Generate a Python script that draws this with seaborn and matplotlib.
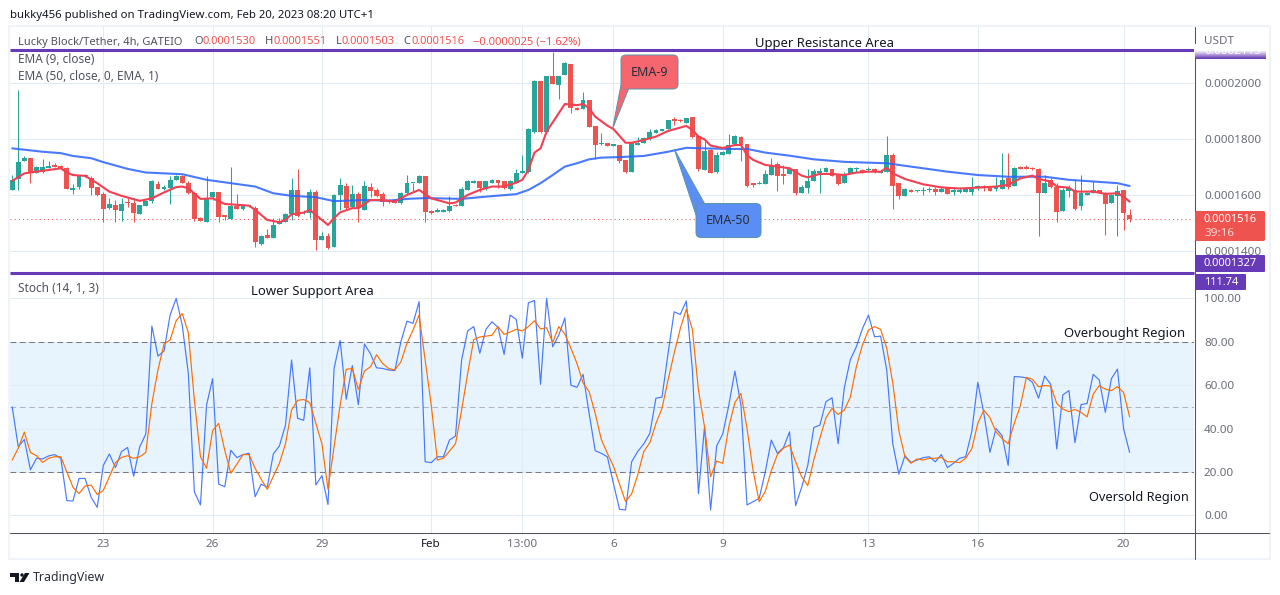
import numpy as np
import pandas as pd
import matplotlib
matplotlib.use("Agg")
import matplotlib.pyplot as plt
import seaborn as sns
from matplotlib.colors import LinearSegmentedColormap
from matplotlib.patches import FancyBboxPatch, Polygon, Rectangle, Circle

# prices are kept in units of 1e-7 USDT
open_ = [1618,1657,1721,1733,1680,1683,1695,1707,1703,1695,
         1616,1627,1670,1662,1627,1604,1554,1563,1543,1573,
         1571,1533,1562,1579,1639,1622,1624,1654,1668,1644,
         1606,1518,1505,1592,1611,1529,1515,1562,1549,1560,
         1553,1426,1458,1448,1497,1503,1533,1618,1535,1535,
         1609,1438,1454,1413,1600,1632,1556,1604,1547,1627,
         1618,1603,1582,1582,1571,1606,1642,1644,1668,1543,
         1541,1541,1543,1566,1559,1618,1642,1650,1620,1644,
         1654,1648,1620,1644,1680,1683,1826,2006,1826,2024,
         1992,2027,2067,1910,1906,1938,1846,1780,1784,1776,
         1779,1725,1681,1779,1786,1798,1822,1828,1834,1867,
         1866,1856,1878,1810,1689,1760,1681,1743,1746,1782,
         1808,1782,1644,1638,1639,1672,1709,1671,1676,1692,
         1608,1626,1650,1680,1683,1692,1671,1643,1680,1691,
         1689,1688,1693,1677,1683,1743,1642,1598,1617,1613,
         1613,1618,1621,1612,1627,1610,1612,1612,1612,1626,
         1632,1626,1621,1623,1662,1632,1700,1701,1695,1693,
         1608,1654,1630,1544,1614,1616,1559,1600,1606,1616,
         1606,1573,1598,1618,1530]
high = [1672,1974,1739,1733,1703,1727,1721,1713,1707,1701,
        1638,1666,1674,1666,1630,1609,1588,1582,1588,1588,
        1588,1565,1582,1654,1648,1636,1666,1671,1671,1648,
        1609,1523,1666,1612,1611,1529,1699,1603,1565,1564,
        1559,1458,1478,1517,1517,1535,1662,1693,1545,1620,
        1616,1467,1464,1604,1662,1642,1636,1612,1650,1642,
        1624,1609,1586,1585,1612,1671,1644,1671,1668,1546,
        1553,1550,1598,1568,1630,1654,1654,1650,1651,1657,
        1654,1648,1654,1691,1743,1840,2010,2006,2024,2110,
        2024,2074,2067,1915,1966,1938,1846,1820,1784,1780,
        1779,1725,1786,1808,1808,1836,1835,1836,1867,1877,
        1869,1874,1878,1814,1792,1763,1754,1757,1817,1814,
        1810,1782,1644,1650,1689,1731,1719,1707,1699,1692,
        1636,1692,1692,1697,1701,1692,1671,1683,1701,1701,
        1691,1699,1695,1689,1810,1748,1642,1624,1620,1617,
        1627,1630,1627,1630,1630,1626,1627,1627,1663,1636,
        1636,1626,1663,1751,1751,1699,1702,1706,1698,1695,
        1671,1659,1642,1624,1636,1657,1671,1610,1648,1618,
        1612,1603,1636,1618,1551]
low = [1618,1616,1721,1644,1680,1677,1695,1699,1693,1622,
       1604,1622,1664,1600,1598,1502,1549,1505,1509,1556,
       1505,1533,1562,1571,1622,1618,1568,1654,1642,1604,
       1509,1508,1505,1582,1505,1511,1515,1550,1547,1558,
       1416,1421,1445,1448,1497,1503,1511,1521,1533,1517,
       1404,1438,1408,1413,1547,1547,1553,1502,1547,1594,
       1594,1562,1571,1571,1568,1604,1612,1642,1502,1533,
       1541,1541,1541,1559,1559,1618,1642,1612,1618,1644,
       1624,1620,1618,1644,1677,1680,1820,1820,1826,1995,
       1942,2027,1891,1903,1906,1843,1728,1778,1776,1776,
       1715,1677,1681,1779,1784,1796,1822,1828,1834,1849,
       1861,1856,1802,1687,1689,1680,1677,1743,1746,1782,
       1721,1627,1627,1638,1639,1672,1614,1638,1676,1600,
       1606,1608,1648,1608,1683,1669,1636,1643,1680,1683,
       1680,1683,1680,1677,1683,1550,1586,1598,1610,1611,
       1600,1612,1600,1612,1604,1600,1606,1612,1600,1618,
       1614,1614,1614,1623,1620,1632,1694,1693,1690,1454,
       1606,1624,1505,1544,1591,1547,1547,1600,1606,1606,
       1458,1573,1455,1475,1503]
close = [1654,1717,1733,1677,1699,1699,1703,1701,1697,1622,
         1624,1666,1668,1626,1600,1549,1568,1547,1568,1571,
         1537,1565,1579,1648,1622,1627,1654,1668,1644,1606,
         1514,1508,1588,1609,1523,1521,1562,1550,1559,1562,
         1434,1454,1445,1492,1502,1531,1618,1525,1541,1609,
         1440,1454,1410,1600,1636,1553,1603,1553,1632,1614,
         1597,1576,1574,1573,1606,1642,1644,1668,1541,1537,
         1547,1547,1559,1559,1621,1648,1651,1626,1648,1654,
         1642,1624,1648,1677,1686,1836,2007,1826,2024,1995,
         2024,2069,1911,1903,1938,1843,1778,1784,1776,1780,
         1721,1681,1784,1786,1802,1824,1832,1834,1867,1865,
         1864,1874,1808,1693,1758,1680,1743,1754,1778,1811,
         1778,1633,1637,1644,1675,1708,1669,1669,1693,1608,
         1630,1650,1685,1686,1697,1669,1639,1675,1697,1695,
         1682,1693,1682,1687,1741,1633,1598,1621,1612,1615,
         1618,1621,1612,1623,1604,1617,1618,1621,1621,1633,
         1624,1614,1627,1654,1627,1696,1694,1693,1692,1608,
         1643,1629,1541,1618,1624,1550,1606,1608,1616,1608,
         1569,1600,1613,1537,1516]

# EMA lines read at the bends only
ema9_bar = [0,2,4,8,9,10,12,14,16,18,21,23,25,27,28,29,31,33,35,37,39,40,42,44,45,46,48,49,50,52,53,54,56,57,59,61,63,65,67,
            69,72,73,75,77,79,81,83,84,85,86,87,88,91,93,94,95,96,98,99,101,102,104,106,108,111,112,113,114,115,117,119,120,121,122,124,126,128,130,131,133,135,137,139,
            141,143,144,145,147,150,153,156,159,162,164,166,168,169,171,172,174,175,178,180,182,183,184]
ema9 = [1650,1677,1683,1695,1680,1671,1668,1642,1612,1597,1579,1588,1609,1628,1630,1624,1586,1588,1568,1565,1562,1547,1511,1503,1511,1531,1537,1547,1529,1493,1517,1538,1553,1553,1582,1582,1576,1600,1618,
        1588,1570,1573,1600,1618,1630,1630,1644,1654,1689,1751,1766,1826,1924,1920,1924,1909,1879,1847,1835,1786,1786,1796,1808,1828,1846,1832,1808,1798,1776,1767,1778,1778,1742,1725,1707,1701,1695,1669,1663,1675,1675,1671,1680,
        1683,1683,1697,1677,1657,1638,1627,1623,1626,1630,1636,1659,1669,1657,1648,1630,1626,1612,1612,1604,1606,1594,1576]
ema50_bar = [0,5,8,10,13,15,19,22,28,32,36,40,43,46,50,53,58,62,65,68,
             70,74,78,83,85,87,89,91,93,95,97,100,104,108,111,114,118,121,124,128,132,137,
             141,144,148,154,159,164,170,174,180,182,184]
ema50 = [1766,1754,1749,1739,1731,1717,1693,1680,1674,1654,1642,1630,1606,1597,1592,1578,1582,1580,1586,1589,
         1588,1586,1594,1603,1618,1642,1671,1701,1713,1727,1733,1735,1739,1754,1768,1766,1764,1764,1751,1740,1727,1718,
         1715,1713,1701,1683,1671,1665,1665,1654,1645,1642,1632]

stoch_k = [50,31.6,35,21,26.3,26,27.4,28,26.3,6.8,
           6.6,17,17,8.3,3.7,23,28.3,22,29.4,31.3,
           18,31.6,37.5,87.2,73.4,75.7,92.3,100,87.7,65.4,
           10.8,4.8,50.8,63,14.4,13.2,30,26.6,28,28.6,
           8.6,14.4,13,28.3,32,41.6,71.6,44.7,43.8,68,
           14,18.3,5,67.7,80.6,53.5,69,51,79,74.4,
           68,67.7,67,66.7,80,89.5,88.5,98.5,24.7,24.3,
           27,27,34.7,36.6,71.6,85,87,74.7,85.7,89.2,
           86.6,74.2,92.3,90.3,72.4,98,99,60.4,100,77.7,
           83,91,60,59,65,47,29.8,28.6,27,14.7,
           2.8,2.5,24.7,29.4,33,37.8,54,54.5,74.7,93.8,
           92.6,98.8,67,10,40.8,2.5,32,37.5,50.8,66.5,
           50.8,4.8,6.3,7.8,20,34.7,28.6,31.2,38.5,4.5,
           13,23,40.5,41.6,52.4,54.2,33,58.5,71.7,77.7,
           86,92.3,82.3,82.6,67,33,19,27.5,24.4,25.5,
           26.6,27,24.7,28,22,24,26.3,27,38.5,61.3,
           47,29,40,36.7,23,64,63.8,63.4,61.3,54,
           64.2,60.4,30.6,55.5,57.5,33.5,51,51.6,65,62.4,
           47.5,63,67.4,40,29]
stoch_d = [25.5,31,38.4,29,27.5,24.4,26.3,27,27,20,
           13,10,13.5,14,9.6,11.5,17.8,24.3,26.7,27.5,
           26.3,27,29,51.6,67,79,80.8,89.7,93,84.2,
           53,27,21.7,39,42.4,30,19.4,23.6,28,28,
           21.7,16.7,12,18,24,33,48.5,53,53.4,52,
           42.4,33,12,31.6,50.8,67.3,67.7,58,66.5,68.5,
           74,70,67.7,67,70.7,79.3,85.4,92.3,71.6,50.8,
           25.5,26.3,29.6,33,48.5,65.4,81,82.2,82.6,83,
           87,83.4,84.5,85.7,85,87,89.7,85.9,86.5,79.6,
           87,83.6,77,70,61,57,47,35,28.6,22.7,
           14.4,6.3,10,18.6,29.4,33.5,42.4,49.3,62.4,74.7,
           86,95,85.7,57.8,40.8,17.8,25,24,40.8,52,
           56.2,40,20.6,6.3,11,20.6,28,31,32.4,24.7,
           17.8,13.7,25.6,35.6,45,49.3,46.5,48.5,54.4,68.5,
           78.5,85.4,87,85.7,77,61,39,27,24,26,
           25.5,26.3,26.3,26.7,24.7,24.7,24.3,26.3,30.6,42.4,
           48.5,45,38.5,35.4,33,42.4,50.4,63.6,62.7,59.3,
           59.8,59.6,51.6,49,47.8,48.8,47.5,45.4,55.9,59.8,
           58.2,57.5,59.3,56.7,45.4]

date_bar = [15,33,51,69,84,99,117,141,159,183]
date_labels = ["23","26","29","Feb","13:00","6","9","13","16","20"]
price_ticks = [1400,1600,1800,2000]
stoch_ticks = [0,20,40,60,80,100]
last_close = 1516
upper_area = 2115

GREEN = "#26a69a"
RED = "#ef5350"
EMA_RED = "#f23f52"
BLUE = "#2962ff"
PURPLE = "#673ab7"
GRID = "#e1ecf2"
TXT = "#50535e"
AXTXT = "#6a6d78"
W, H = 1280, 595

sns.set_theme(style="white")
plt.rcParams["font.family"] = ["Noto Sans", "DejaVu Sans"]
plt.rcParams["font.size"] = 8.6

df = pd.DataFrame({"bar": np.arange(len(close)), "open": open_, "high": high, "low": low, "close": close,
                   "k": stoch_k, "d": stoch_d})
for c in ["open", "high", "low", "close"]:
    df[c] = df[c] * 1e-7
ema9_df = pd.DataFrame({"bar": ema9_bar, "value": np.array(ema9) * 1e-7})
ema50_df = pd.DataFrame({"bar": ema50_bar, "value": np.array(ema50) * 1e-7})

fig = plt.figure(figsize=(W / 100, H / 100), dpi=100, facecolor="white")


def pane(top, bottom):
    return fig.add_axes([10 / W, 1 - bottom / H, 1184 / W, (bottom - top) / H])


ax = pane(27, 273)
ax2 = pane(273, 532.5)
x_lim = (-0.362, 194.6)

# price pane
up = df[df["close"] >= df["open"]]
down = df[df["close"] < df["open"]]
for part, col in [(up, GREEN), (down, RED)]:
    ax.vlines(part["bar"], part["low"], part["high"], color=col, lw=0.75, zorder=3)
    ax.bar(part["bar"], (part["close"] - part["open"]).abs().clip(lower=4e-7),
           bottom=part[["open", "close"]].min(axis=1), width=0.8, color=col, linewidth=0, zorder=3)
ax.axhline(last_close * 1e-7, color=RED, lw=0.75, ls=(0, (1, 3)), zorder=2)
sns.lineplot(data=ema50_df, x="bar", y="value", ax=ax, color=BLUE, lw=1.5, errorbar=None, zorder=4, alpha=0.85)
sns.lineplot(data=ema9_df, x="bar", y="value", ax=ax, color=EMA_RED, lw=1.5, errorbar=None, zorder=5)
ax.axhline(upper_area * 1e-7, color=PURPLE, lw=2.2, zorder=6, solid_capstyle="butt")
ax.set_ylim(1322e-7, 2198.4e-7)
ax.set_yticks([t * 1e-7 for t in price_ticks])
ax.set_yticklabels([f"{t * 1e-7:.7f}" for t in price_ticks])

# stochastic pane
ax2.axhspan(20, 80, color="#e8f4fd", lw=0, zorder=0)
sns.lineplot(data=df, x="bar", y="k", ax=ax2, color=BLUE, lw=0.85, errorbar=None, zorder=4, alpha=0.85)
sns.lineplot(data=df, x="bar", y="d", ax=ax2, color="#ff6d00", lw=0.85, errorbar=None, zorder=5)
for lev, col in [(80, "#787b86"), (50, "#b2b5be"), (20, "#787b86")]:
    ax2.axhline(lev, color=col, lw=0.75, ls=(0, (5.5, 3.5)), zorder=2)
ax2.set_ylim(-7.9, 111.7)
ax2.set_yticks(stoch_ticks)
ax2.set_yticklabels([f"{t:.2f}" for t in stoch_ticks])

for a in (ax, ax2):
    a.set_xlim(*x_lim)
    a.set_xlabel("")
    a.set_ylabel("")
    a.set_xticks(date_bar)
    a.grid(True, color=GRID, lw=0.75, zorder=0)
    a.set_axisbelow(True)
    a.yaxis.tick_right()
    for s in a.spines.values():
        s.set_visible(False)
    a.tick_params(axis="y", length=0, pad=7.2, labelsize=8.4, labelcolor=AXTXT, labelright=True, labelleft=False)
    a.tick_params(axis="x", length=0, pad=5, labelsize=8.4, labelcolor=AXTXT)
ax.tick_params(axis="x", labelbottom=False)
ax2.set_xticklabels(date_labels)
ax2.get_xticklabels()[3].set_color("#131722")

# overlay in pixel coordinates for the TradingView chrome and the drawn notes
ov = fig.add_axes([0, 0, 1, 1], zorder=10)
ov.patch.set_alpha(0)
ov.axis("off")

ov.add_patch(Rectangle((9, 26), 1261, 533, fill=False, ec="#f0f3fa", lw=1.5))
ov.plot([1194.5, 1194.5], [27, 559], color="#50535e", lw=0.75)
ov.plot([10, 1269], [532.5, 532.5], color="#50535e", lw=0.75)
ov.plot([10, 1194], [273, 273], color=PURPLE, lw=2.2, solid_capstyle="butt")


def label(x, y, s, color=TXT, size=8.6, **kw):
    kw.setdefault("va", "center")
    return ov.text(x, y, s, color=color, fontsize=size, **kw)


label(10, 15.5, "bukky456 published on TradingView.com, Feb 20, 2023 08:20 UTC+1", color="#131722", size=8.2)
label(18, 42, "Lucky Block/Tether, 4h, GATEIO", size=8.0)
for x, letter, val in [(194, "O", "0.0001530"), (265, "H", "0.0001551"), (336, "L", "0.0001503"), (403, "C", "0.0001516")]:
    label(x, 42, letter, size=8.0)
    label(x + (6 if letter == "L" else 8.5), 42, val, color=RED, size=8.0)
label(473, 42, "\u22120.0000025 (\u22121.62%)", color=RED, size=8.1)
label(18, 59.5, "EMA (9, close)", size=8.5)
label(18, 76, "EMA (50, close, 0, EMA, 1)", size=8.5)
label(18, 288, "Stoch (14, 1, 3)", size=8.5)

label(755, 43, "Upper Resistance Area", color="#131722", size=9.4)
label(251, 292, "Lower Support Area", color="#131722", size=9.4)
label(1064, 334, "Overbought Region", color="#131722", size=9.4)
label(1089, 497.5, "Oversold Region", color="#131722", size=9.2)

# right axis badges
label(1204, 42, "USDT", color=AXTXT, size=8.4, zorder=6)
grad = LinearSegmentedColormap.from_list("fade", ["#ffffff", PURPLE])
ov.imshow(np.linspace(0, 1, 12).reshape(-1, 1), extent=(1194.5, 1265, 59, 50), cmap=grad, aspect="auto", zorder=2)
label(1204, 52, "0.0002115", color="#ffffff", size=8.4, zorder=3)
ov.add_patch(Rectangle((1195, 44), 70, 6, fc="white", ec="none", zorder=4))
ov.add_patch(FancyBboxPatch((1195, 211), 70, 30, boxstyle="round,pad=0,rounding_size=1.5", fc=RED, ec="none", zorder=5))
label(1204, 220, "0.0001516", color="white", size=8.0, weight="bold", zorder=6)
label(1204, 234, "39:16", color="#ffd6d4", size=8.4, zorder=6)
ov.add_patch(FancyBboxPatch((1195, 255), 70, 17, boxstyle="round,pad=0,rounding_size=1", fc=PURPLE, ec="none", zorder=5))
label(1204, 264, "0.0001327", color="white", size=8.0, weight="bold", zorder=6)
ov.add_patch(FancyBboxPatch((1195, 274), 51, 16, boxstyle="round,pad=0,rounding_size=1", fc=PURPLE, ec="none", zorder=5))
label(1204, 282.5, "111.74", color="white", size=8.0, weight="bold", zorder=6)

# EMA callouts
edge = "#5a93a8"
ov.add_patch(Polygon([(612.7, 128.3), (621, 85), (628.5, 89)], closed=True, fc="#f6666f", ec=edge, lw=0.7, zorder=7))
ov.add_patch(FancyBboxPatch((621, 55), 57, 34, boxstyle="round,pad=0,rounding_size=5", fc="#f6666f", ec=edge, lw=0.7, zorder=7))
ov.add_patch(Polygon([(621.5, 84), (621.5, 89), (630, 88.5), (624, 84)], closed=True, fc="#f6666f", ec="none", zorder=8))
label(649.5, 72, "EMA-9", color="#2a2e39", size=9, ha="center", zorder=9)

ov.add_patch(Polygon([(674.3, 149.3), (696, 215), (704.5, 203.5)], closed=True, fc="#5b8ef5", ec=edge, lw=0.7, zorder=7))
ov.add_patch(FancyBboxPatch((696, 203.5), 65, 34, boxstyle="round,pad=0,rounding_size=5", fc="#5b8ef5", ec=edge, lw=0.7, zorder=7))
ov.add_patch(Polygon([(696.5, 214), (703, 204), (708, 208), (698, 218)], closed=True, fc="#5b8ef5", ec="none", zorder=8))
label(728.5, 220, "EMA-50", color="#2a2e39", size=9, ha="center", zorder=9)

# TradingView logo
ov.add_patch(Polygon([(10, 573), (19, 573), (19, 582), (14.5, 582), (14.5, 576.5), (10, 576.5)], closed=True, fc="#131722", ec="none"))
ov.add_patch(Circle((22, 575), 1.7, fc="#131722", ec="none"))
ov.add_patch(Polygon([(25, 573), (29.5, 573), (24, 582), (19.5, 582)], closed=True, fc="#131722", ec="none"))
label(33, 577.5, "TradingView", color="#2a2e39", size=8.9)

ov.set_xlim(0, W)
ov.set_ylim(H, 0)

fig.savefig("out.png", dpi=100, facecolor="white")
